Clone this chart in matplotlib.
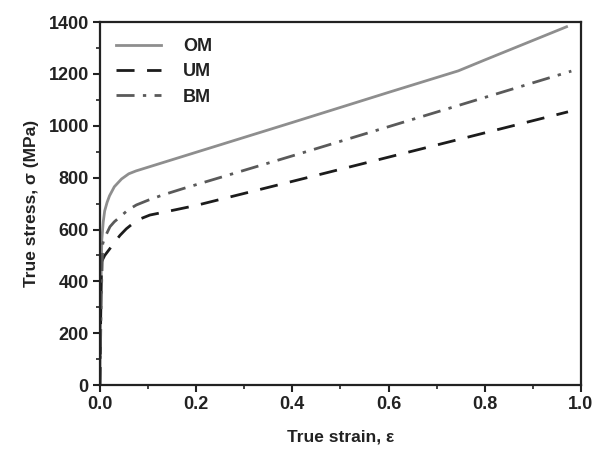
import numpy as np
import matplotlib.pyplot as plt
from matplotlib.ticker import MultipleLocator

plt.rcParams['font.family'] = ['Liberation Sans', 'DejaVu Sans']
plt.rcParams['font.weight'] = 'bold'

# OM curve
om_x = [0.0, 0.002, 0.004, 0.007, 0.010, 0.015, 0.020, 0.030, 0.045, 0.060, 0.075,
        0.2, 0.4, 0.6, 0.745, 0.8, 0.97]
om_y = [0, 350, 560, 630, 672, 705, 730, 765, 795, 815, 826,
        898, 1013, 1129, 1212, 1254, 1382]

# UM curve
um_x = [0.0, 0.002, 0.0035, 0.010, 0.021, 0.030, 0.042, 0.055, 0.069, 0.085,
        0.104, 0.125, 0.146, 0.2, 0.437, 0.7, 0.973]
um_y = [0, 300, 476, 500, 527, 550, 578, 603, 624, 642,
        656, 664, 672, 693, 803, 926, 1054]

# BM curve
bm_x = [0.0, 0.003, 0.006, 0.0104, 0.021, 0.030, 0.042, 0.058, 0.076, 0.1,
        0.13, 0.173, 0.416, 0.7, 0.98]
bm_y = [0, 350, 546, 570, 611, 630, 649, 675, 695, 713,
        733, 758, 893, 1053, 1211]

fig = plt.figure(figsize=(6.09, 4.51), dpi=100)
ax = fig.add_axes([0.164, 0.146, 0.790, 0.805])

ax.plot(om_x, om_y, color='#8e8e8e', lw=2.0, label='OM')
ax.plot(um_x, um_y, color='#1c1c1c', lw=2.0, dashes=(6.5, 4.5), label='UM')
ax.plot(bm_x, bm_y, color='#5a5a5a', lw=2.0, dashes=(6.5, 3, 1.2, 3), label='BM')

ax.set_xlim(0, 1.0)
ax.set_ylim(0, 1400)
ax.xaxis.set_major_locator(MultipleLocator(0.2))
ax.xaxis.set_minor_locator(MultipleLocator(0.1))
ax.yaxis.set_major_locator(MultipleLocator(200))
ax.yaxis.set_minor_locator(MultipleLocator(100))
ax.tick_params(which='major', direction='out', length=5, width=1.5, labelsize=13,
               colors='#222222', pad=3)
ax.tick_params(which='minor', direction='out', length=3, width=1.2, colors='#222222')
for lab in ax.get_xticklabels() + ax.get_yticklabels():
    lab.set_fontweight('bold')
for sp in ax.spines.values():
    sp.set_linewidth(1.6)
    sp.set_color('#222222')

ax.set_xlabel('True strain, ε', fontsize=12.5, fontweight='bold', labelpad=12,
              color='#222222')
ax.set_ylabel('True stress, σ (MPa)', fontsize=12.5, fontweight='bold', labelpad=7,
              color='#222222')

leg = ax.legend(loc='upper left', frameon=False, fontsize=13, handlelength=2.5,
                handletextpad=1.2, labelspacing=0.45, borderaxespad=0.6,
                borderpad=0.3)
for t in leg.get_texts():
    t.set_fontweight('bold')
    t.set_color('#222222')

fig.savefig('out.png', dpi=100)
